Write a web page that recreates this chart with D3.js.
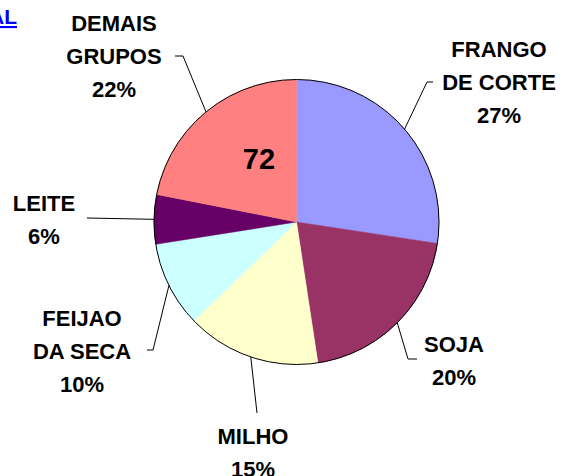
<!DOCTYPE html>
<html>
<head>
<meta charset="utf-8">
<script src="https://cdn.jsdelivr.net/npm/d3@7"></script>
<style>
  body { margin: 0; background: #fff; }
  text { font-family: "Liberation Sans", Arial, sans-serif; font-weight: bold; }
</style>
</head>
<body>
<div id="pie"></div>
<script>
// data
var categories = ["FRANGO DE CORTE", "SOJA", "MILHO", "FEIJAO DA SECA", "LEITE", "DEMAIS GRUPOS"];
var values = [27.4, 20.2, 15.2, 9.7, 5.6, 21.9];
var colors = ["#9999ff", "#993366", "#ffffcc", "#ccffff", "#660066", "#ff8080"];
var labelLines = [["FRANGO", "DE CORTE"], ["SOJA"], ["MILHO"], ["FEIJAO", "DA SECA"], ["LEITE"], ["DEMAIS", "GRUPOS"]];
var centerNumber = "72";
var title = "TOTAL";

// layout of the labels (x centre, first baseline) and leader line bends
var labelPos = [
    { x: 499, y: 57, bend: [427, 82], end: [433, 82] },
    { x: 454, y: 352, bend: [408, 359], end: [417, 359] },
    { x: 253, y: 444, bend: null, end: [257, 413] },
    { x: 82, y: 326, bend: [153, 350], end: [147, 350] },
    { x: 44, y: 211, bend: null, end: [87, 218] },
    { x: 114, y: 31, bend: [183, 56], end: [175, 56] }
];

var width = 565, height = 476;
var cx = 296.5, cy = 222, radius = 142.5;
var lineStep = 33;

var svg = d3.select("#pie")
    .append("svg")
    .attr("width", width)
    .attr("height", height);

var total = d3.sum(values);
var pie = d3.pie().sort(null).value(function (d) { return d; });
var arcs = pie(values);
var arc = d3.arc().innerRadius(0).outerRadius(radius);
var edge = d3.arc().innerRadius(radius).outerRadius(radius);

var g = svg.append("g")
    .attr("transform", "translate(" + cx + "," + cy + ")");

g.selectAll("path.slice")
    .data(arcs)
    .enter()
    .append("path")
    .attr("class", "slice")
    .attr("d", arc)
    .style("fill", function (d, i) { return colors[i]; })
    .style("stroke", function (d, i) { return colors[i]; })
    .style("stroke-width", 0.5);

g.append("circle")
    .attr("r", radius)
    .style("fill", "none")
    .style("stroke", "#000")
    .style("stroke-width", 1);

// leader lines
var line = d3.line();
svg.selectAll("path.leader")
    .data(arcs)
    .enter()
    .append("path")
    .attr("class", "leader")
    .attr("d", function (d, i) {
        var c = edge.centroid(d);
        var pts = [[cx + c[0], cy + c[1]]];
        if (labelPos[i].bend) pts.push(labelPos[i].bend);
        pts.push(labelPos[i].end);
        return line(pts);
    })
    .style("fill", "none")
    .style("stroke", "#000")
    .style("stroke-width", 1);

// labels
var labels = svg.selectAll("text.lbl")
    .data(arcs)
    .enter()
    .append("text")
    .attr("class", "lbl")
    .attr("text-anchor", "middle")
    .style("font-size", "22px")
    .style("fill", "#000");

labels.each(function (d, i) {
    var t = d3.select(this);
    var rows = labelLines[i].concat([Math.round(values[i] / total * 100) + "%"]);
    rows.forEach(function (r, k) {
        t.append("tspan")
            .attr("x", labelPos[i].x)
            .attr("y", labelPos[i].y + k * lineStep)
            .text(r);
    });
});

svg.append("text")
    .attr("x", 259)
    .attr("y", 169)
    .attr("text-anchor", "middle")
    .style("font-size", "29px")
    .style("fill", "#000")
    .text(centerNumber);

svg.append("text")
    .attr("x", 17)
    .attr("y", 24)
    .attr("text-anchor", "end")
    .style("font-size", "21px")
    .style("fill", "#0000ff")
    .style("text-decoration", "underline")
    .text(title);
</script>
</body>
</html>
